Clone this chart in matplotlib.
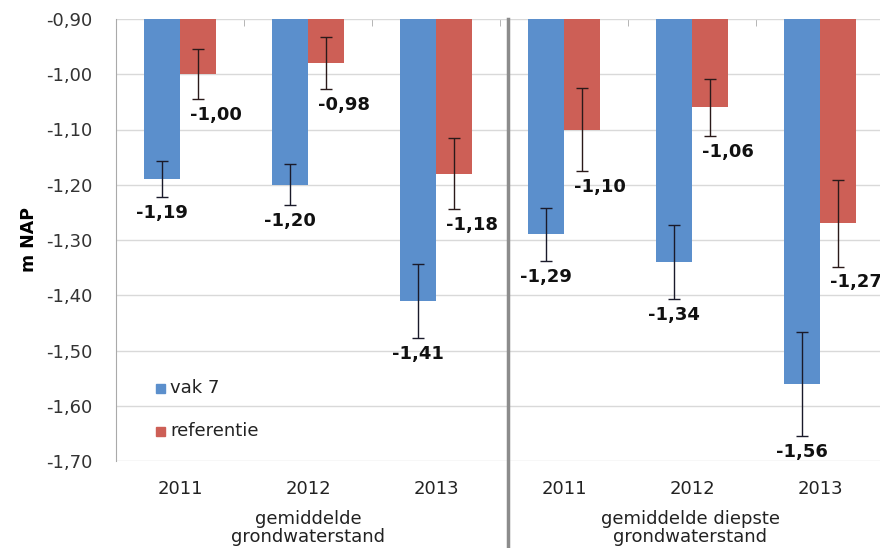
import matplotlib
matplotlib.use("Agg")
import matplotlib.pyplot as plt
from matplotlib.lines import Line2D
import numpy as np

# Data
years = ["2011", "2012", "2013", "2011", "2012", "2013"]
groups = ["gemiddelde\ngrondwaterstand", "gemiddelde diepste\ngrondwaterstand"]
vak7 = [-1.19, -1.20, -1.41, -1.29, -1.34, -1.56]
vak7_err = [0.033, 0.037, 0.067, 0.048, 0.067, 0.094]
referentie = [-1.00, -0.98, -1.18, -1.10, -1.06, -1.27]
referentie_err = [0.045, 0.047, 0.064, 0.076, 0.052, 0.078]
yticks = [-0.90, -1.00, -1.10, -1.20, -1.30, -1.40, -1.50, -1.60, -1.70]

blue = "#5B8FCC"
red = "#CD5F56"
base = -0.90

W, H = 880, 548
fig = plt.figure(figsize=(W / 100, H / 100), dpi=100)
# axes spans six categories; the last one runs slightly past the right edge
ax_left, ax_right, ax_top, ax_bot = 116, 884, 19, 461
ax_w = ax_right - ax_left
ax = fig.add_axes([ax_left / W, 1 - ax_bot / H, ax_w / W, (ax_bot - ax_top) / H])

x = np.arange(len(years))
bw = 0.285
xb = x - bw / 2
xr = x + bw / 2

vak7_a = np.array(vak7)
ref_a = np.array(referentie)

ax.bar(xb, vak7_a - base, bottom=base, width=bw, color=blue, zorder=2)
ax.bar(xr, ref_a - base, bottom=base, width=bw, color=red, zorder=2)
ax.errorbar(xb, vak7_a, yerr=vak7_err, fmt="none", ecolor="#1a1a2a", elinewidth=1, capsize=4, capthick=1, zorder=3)
ax.errorbar(xr, ref_a, yerr=referentie_err, fmt="none", ecolor="#2a1a1a", elinewidth=1, capsize=4, capthick=1, zorder=3)

def fmt(v):
    return f"{v:.2f}".replace(".", ",")

for xi, v, e in zip(xb, vak7_a, vak7_err):
    ax.annotate(fmt(v), (xi, v - e), xytext=(0, -5), textcoords="offset points",
                ha="center", va="top", fontsize=13, fontweight="bold", color="#111111",
                annotation_clip=False)
for xi, v, e in zip(xr, ref_a, referentie_err):
    ax.annotate(fmt(v), (xi, v - e), xytext=(12.5, -5), textcoords="offset points",
                ha="center", va="top", fontsize=13, fontweight="bold", color="#111111",
                annotation_clip=False)

ax.set_xlim(-0.5, len(years) - 0.5)
ax.set_ylim(-1.70, -0.90)
ax.set_yticks(yticks)
ax.set_yticklabels([fmt(v) for v in yticks], fontsize=13, color="#333333")
ax.yaxis.grid(True, color="#d9d9d9", linewidth=1, zorder=0)
ax.set_axisbelow(True)

ax.set_xticks(x)
ax.set_xticklabels(years, fontsize=13, color="#222222")
ax.tick_params(axis="x", length=0, pad=14)
ax.tick_params(axis="y", length=0, pad=17)
# category boundary marks along the top edge
ax.set_xticks(np.arange(0.5, len(years) - 0.5, 1.0), minor=True)
ax.tick_params(axis="x", which="minor", top=True, bottom=False, direction="in", length=5, color="#aaaaaa")

for s in ["top", "right", "bottom"]:
    ax.spines[s].set_visible(False)
ax.spines["left"].set_color("#aaaaaa")

ax.set_ylabel("m NAP", fontsize=12.5, fontweight="bold")
ax.yaxis.set_label_coords((38 - ax_left) / ax_w, 0.5)

# group captions under the year labels
fig.text(308 / W, 1 - 528 / H, groups[0], ha="center", va="center", fontsize=13,
         color="#222222", linespacing=1.0)
fig.text(690 / W, 1 - 528 / H, groups[1], ha="center", va="center", fontsize=13,
         color="#222222", linespacing=1.0)

# separator between the two groups
fig.add_artist(Line2D([508 / W, 508 / W], [1 - 19 / H, 0], color="#8c8c8c", linewidth=2.5))

# legend
for ypx, col, lab in [(388, blue, "vak 7"), (431, red, "referentie")]:
    fig.patches.append(plt.Rectangle((156 / W, 1 - (ypx + 4.5) / H), 9 / W, 9 / H,
                                     transform=fig.transFigure, color=col, figure=fig))
    fig.text(170 / W, 1 - ypx / H, lab, ha="left", va="center", fontsize=13, color="#222222")

fig.savefig("out.png", dpi=100, facecolor="white")
